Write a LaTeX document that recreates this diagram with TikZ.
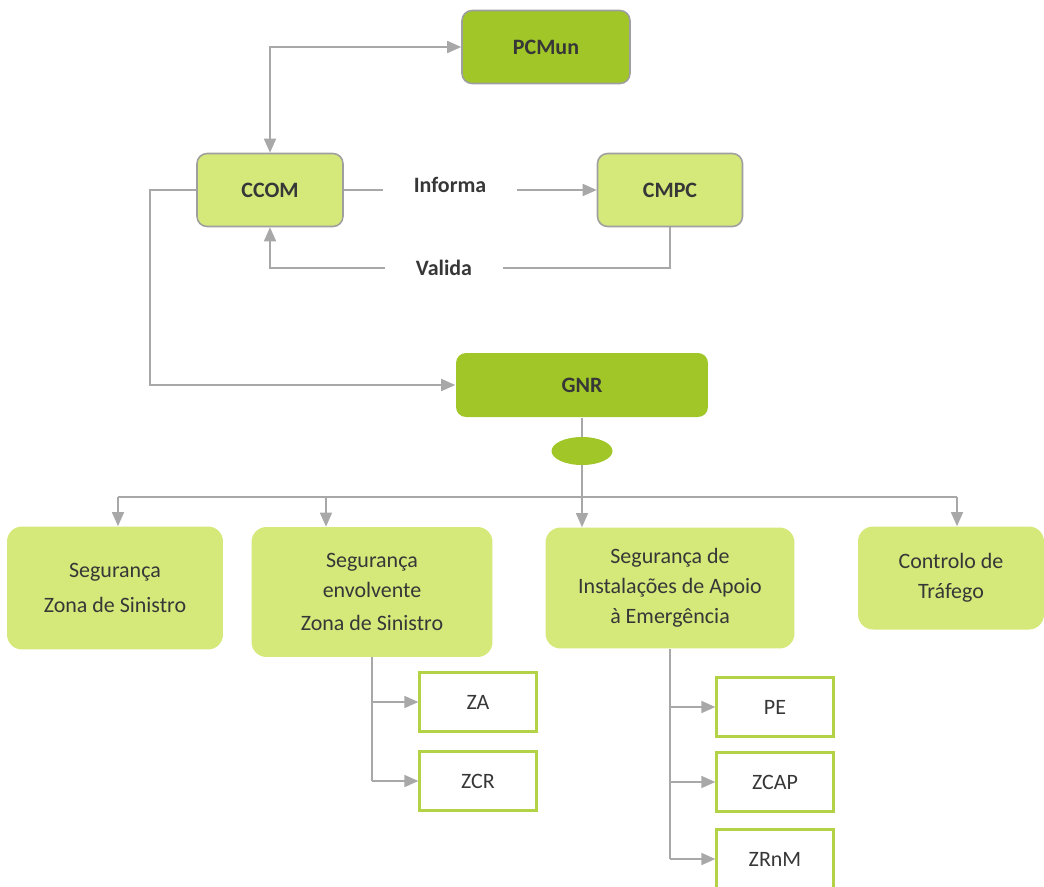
\documentclass[tikz,border=0pt]{standalone}
\usepackage{fontspec}
\setmainfont{Carlito}
\usetikzlibrary{arrows.meta,shapes.geometric}
\definecolor{darkgr}{RGB}{160,198,40}
\definecolor{lightgr}{RGB}{213,232,122}
\definecolor{edgegr}{RGB}{180,210,70}
\definecolor{linegray}{RGB}{168,168,168}
\definecolor{txt}{RGB}{55,55,55}
\begin{document}
\begin{tikzpicture}[x=0.02cm,y=-0.02cm,
 top/.style = {draw=gray!75, line width=0.9pt, rounded corners=0.2cm, text=txt, font=\fontsize{12.5}{15}\selectfont\bfseries},
 dark/.style = {top, fill=darkgr},
 light/.style = {top, fill=lightgr},
 grp/.style = {fill=lightgr, rounded corners=0.3cm, align=center, text=txt, font=\fontsize{12.5}{17}\selectfont},
 zone/.style = {draw=edgegr, line width=1.3pt, fill=white, minimum width=2.34cm, minimum height=1.18cm, text=txt, font=\fontsize{12.5}{15}\selectfont},
 lbl/.style = {text=txt, font=\fontsize{12.5}{15}\selectfont\bfseries},
 ln/.style = {draw=linegray, line width=0.9pt},
 arr/.style = {ln, -{Triangle[length=0.28cm,width=0.24cm]}},
 arrs/.style = {ln, {Triangle[length=0.28cm,width=0.24cm]}-{Triangle[length=0.28cm,width=0.24cm]}}]
\useasboundingbox (0,0) rectangle (1044,886);
\node[dark, minimum width=3.36cm, minimum height=1.46cm] (PCMun) at (546,47) {PCMun};
\node[light, minimum width=2.92cm, minimum height=1.46cm] (CCOM) at (270,190) {CCOM}; \node[light, minimum width=2.9cm, minimum height=1.46cm] (CMPC) at (670,190) {CMPC};
\node[lbl, minimum width=2.68cm] (inf) at (450,185) {Informa}; \node[lbl, minimum width=2.34cm] (val) at (444,268) {Valida};
\node[dark, draw=none, minimum width=5.04cm, minimum height=1.28cm] (GNR) at (582,385) {GNR};
\node[ellipse, fill=darkgr, minimum width=1.22cm, minimum height=0.56cm] (ell) at (582,451) {};
\node[grp, minimum width=4.32cm, minimum height=2.46cm] (b1) at (115,588) {Segurança\\[3pt]Zona de Sinistro};
\node[grp, minimum width=4.82cm, minimum height=2.6cm] (b2) at (372,592) {Segurança\\envolvente\\[2pt]Zona de Sinistro};
\node[grp, minimum width=4.98cm, minimum height=2.42cm] (b3) at (670,588) {Segurança de\\Instalações de Apoio\\à Emergência};
\node[grp, minimum width=3.72cm, minimum height=2.06cm] (b4) at (951,578) {Controlo de\\Tráfego};
\node[zone] (ZA) at (478,702) {ZA}; \node[zone] (ZCR) at (478,781) {ZCR};
\node[zone] (PE) at (775,707) {PE}; \node[zone] (ZCAP) at (775,782) {ZCAP}; \node[zone] (ZRnM) at (775,859) {ZRnM};
\coordinate (busL) at (118,497); \coordinate (busB) at (326,497); \coordinate (busR) at (957,497);
\draw[arrs] (CCOM.north) |- (PCMun.west);
\draw[ln] (CCOM.east) -- (CCOM.east -| inf.west); \draw[arr] (CCOM.east -| inf.east) -- (CMPC.west);
\draw[ln] (CMPC.south) |- (val.east); \draw[arr] (val.west) -| (CCOM.south);
\draw[arr] (CCOM.west) -- ++(-46,0) |- (GNR.west);
\draw[ln] (GNR.south) -- (ell.north); \draw[arr] (ell.south) -- (ell.south |- b3.north);
\draw[ln] (busL) -- (busR); \draw[arr] (busL) -- (busL |- b1.north); \draw[arr] (busB) -- (busB |- b2.north); \draw[arr] (busR) -- (busR |- b4.north);
\draw[ln] (b2.south) -- (b2.south |- ZCR.west); \draw[arr] (b2.south |- ZA.west) -- (ZA.west); \draw[arr] (b2.south |- ZCR.west) -- (ZCR.west);
\draw[ln] (b3.south) -- (b3.south |- ZRnM.west); \draw[arr] (b3.south |- PE.west) -- (PE.west); \draw[arr] (b3.south |- ZCAP.west) -- (ZCAP.west); \draw[arr] (b3.south |- ZRnM.west) -- (ZRnM.west);
\end{tikzpicture}
\end{document}
